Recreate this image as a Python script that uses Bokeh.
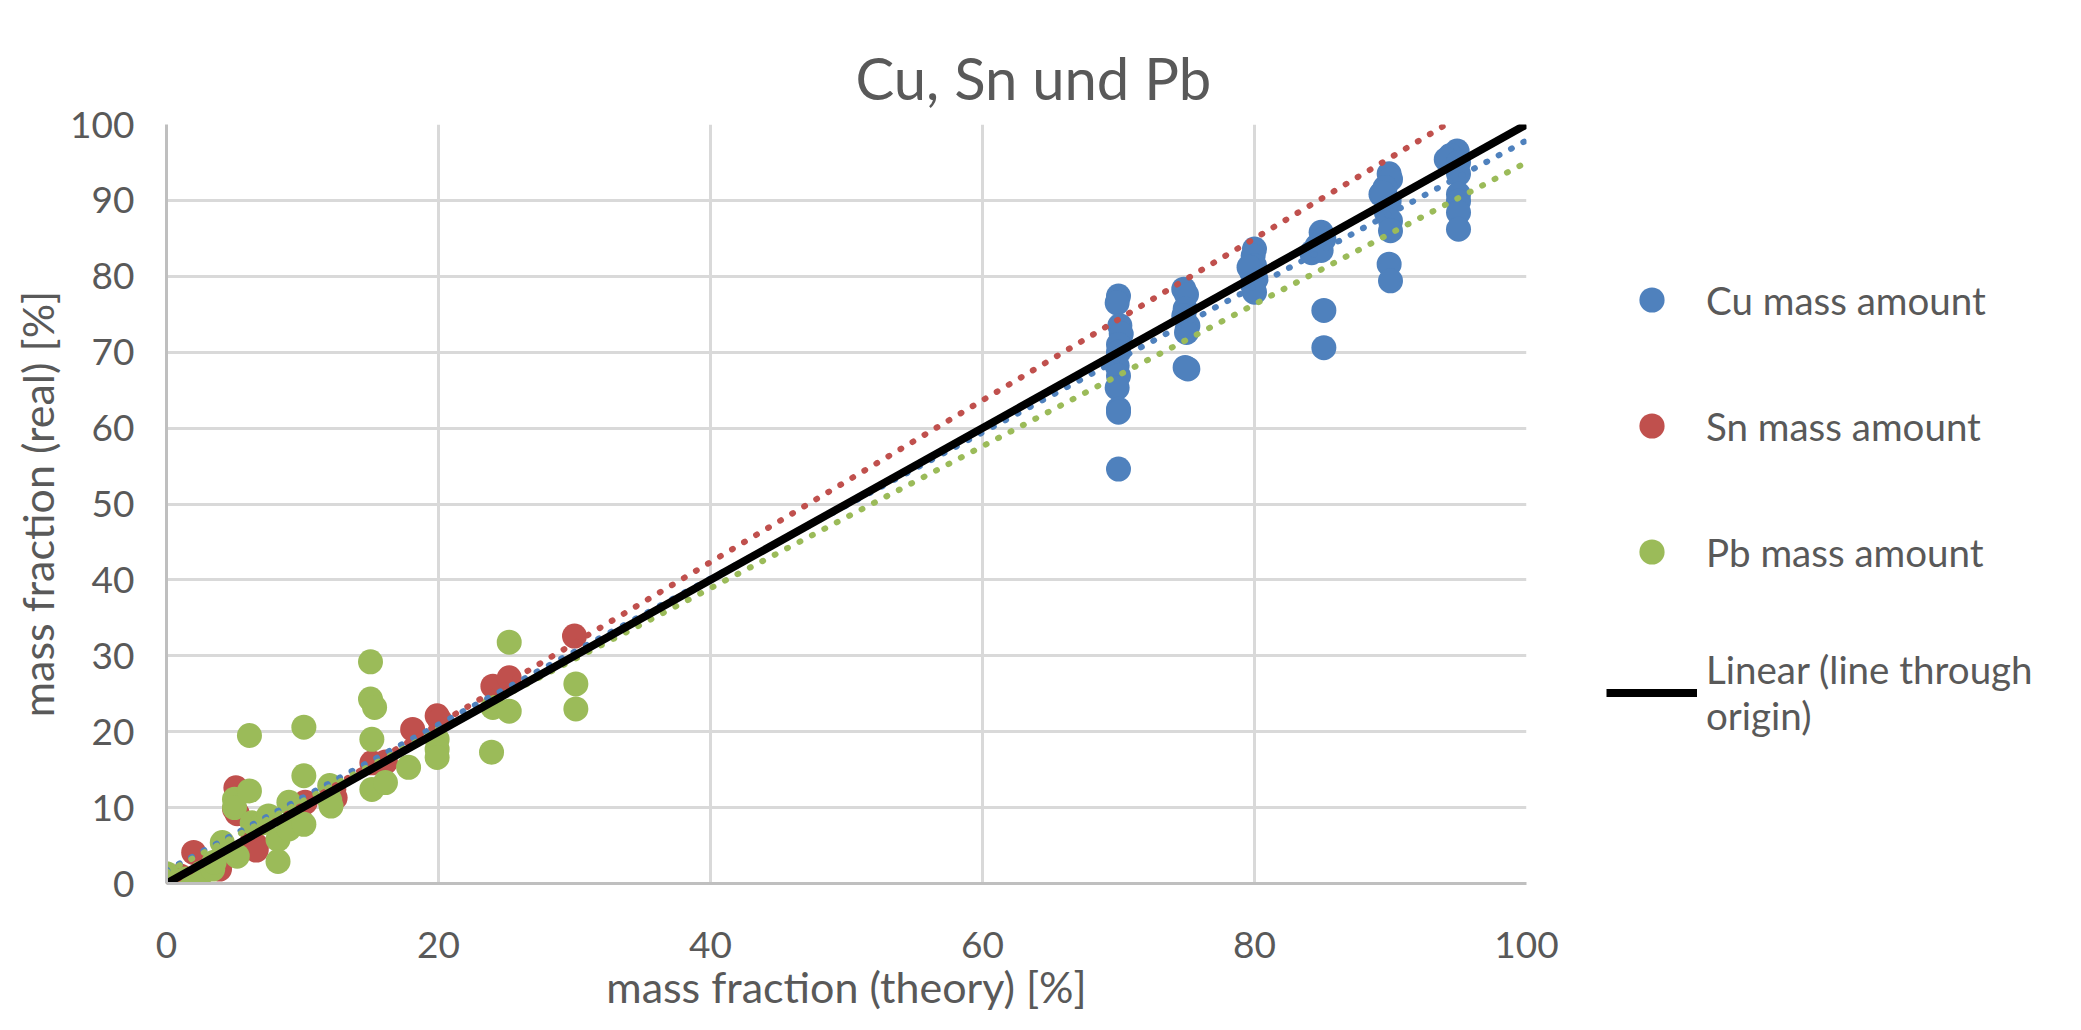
from bokeh.plotting import figure
from bokeh.models import Range1d, FixedTicker, Legend, LegendItem
from bokeh.embed import file_html
from bokeh.resources import INLINE

# ---------------- data ----------------
cu_x = [70.0, 69.9, 70.1, 70.2, 70.0, 70.0, 69.9, 70.0, 69.9, 70.0, 70.0, 70.0,
        74.8, 75.0, 74.9, 74.8, 75.1, 75.0, 74.9, 75.1,
        80.0, 79.9, 80.0, 79.8, 80.1, 79.9, 80.0, 79.6,
        84.9, 85.1, 84.6, 84.2, 84.9, 85.1, 85.1,
        89.9, 90.0, 89.6, 89.3, 89.9, 89.7, 90.0, 90.0, 89.9, 90.0, 89.4,
        94.9, 94.4, 94.1, 95.0, 95.0, 95.0, 95.0, 95.0, 95.0]
cu_y = [77.4, 76.5, 73.5, 72.4, 71.0, 70.0, 68.2, 66.9, 65.3, 62.5, 62.1, 54.6,
        78.3, 77.6, 75.7, 74.8, 73.5, 72.6, 68.0, 67.8,
        83.6, 82.7, 81.4, 80.5, 79.6, 78.7, 77.9, 81.2,
        85.8, 84.9, 84.0, 83.1, 83.4, 75.5, 70.6,
        93.5, 92.8, 91.7, 90.8, 89.9, 88.4, 87.3, 86.0, 81.6, 79.4, 91.0,
        96.5, 95.9, 95.4, 95.0, 93.5, 90.8, 89.9, 88.4, 86.2]

sn_x = [0.3, 1.0, 2.0, 3.9, 4.0, 5.1, 5.0, 5.2, 6.6, 6.3, 6.6, 9.8, 10.2, 12.3,
        12.4, 15.1, 16.1, 18.1, 19.9, 20.1, 24.0, 25.2, 30.0]
sn_y = [0.5, 1.0, 4.1, 1.9, 2.8, 12.6, 9.8, 9.2, 5.0, 5.5, 4.4, 8.5, 10.7, 12.4,
        11.3, 15.9, 16.0, 20.3, 22.1, 21.5, 26.0, 27.1, 32.6]

pb_x = [0.0, 0.0, 0.3, 1.4, 2.6, 3.4, 3.5, 4.1, 5.2, 5.0, 5.0, 6.1, 6.1, 6.3,
        7.1, 7.5, 8.2, 8.2, 9.0, 9.0, 10.1, 10.1, 10.1, 12.0, 12.1, 12.0,
        15.0, 15.0, 15.3, 15.1, 15.1, 16.1, 17.8, 19.9, 19.9, 19.9,
        23.9, 24.0, 25.2, 25.2, 30.1, 30.1]
pb_y = [0.0, 1.3, 0.6, 0.6, 1.4, 1.9, 2.8, 5.4, 3.6, 11.1, 10.0, 12.2, 19.5, 8.0,
        8.0, 8.9, 5.8, 2.9, 10.7, 7.2, 7.8, 14.2, 20.6, 11.0, 10.2, 12.9,
        29.2, 24.3, 23.2, 19.0, 12.4, 13.3, 15.3, 19.0, 17.7, 16.6,
        17.3, 23.2, 31.8, 22.7, 26.3, 23.0]

# linear trendlines (slope, intercept)
trend_names = ["Cu", "Sn", "Pb"]
trend_slope = [0.962, 1.066, 0.935]
trend_intercept = [1.7, -0.3, 1.5]
trend_x = [0, 100]

# line through origin
origin_x = [0, 100]
origin_y = [0, 100]

x_ticks = [0, 20, 40, 60, 80, 100]
y_ticks = [0, 10, 20, 30, 40, 50, 60, 70, 80, 90, 100]

colors = {"Cu": "#4F81BD", "Sn": "#C0504D", "Pb": "#9BBB59"}
TXT = "#595959"
FONT = "Lato"

# ---------------- figure ----------------
p = figure(frame_width=1360, frame_height=759,
           min_border_left=166, min_border_right=531,
           min_border_top=124, min_border_bottom=131,
           x_range=Range1d(0, 100), y_range=Range1d(0, 100),
           output_backend="svg", toolbar_location=None,
           background_fill_color="white", border_fill_color="white")
p.outline_line_color = None

p.title.text = "Cu, Sn und Pb"
p.title.align = "left"
p.title.offset = 689
p.title.text_font = FONT
p.title.text_font_size = "58px"
p.title.text_font_style = "normal"
p.title.text_color = TXT
p.title.standoff = 25

p.xaxis.ticker = FixedTicker(ticks=x_ticks)
p.yaxis.ticker = FixedTicker(ticks=y_ticks)
p.xgrid.ticker = FixedTicker(ticks=x_ticks)
p.ygrid.ticker = FixedTicker(ticks=y_ticks)
for g in (p.xgrid, p.ygrid):
    g.grid_line_color = "#D9D9D9"
    g.grid_line_width = 3

for ax in (p.xaxis, p.yaxis):
    ax.axis_line_color = "#BFBFBF"
    ax.axis_line_width = 3
    ax.major_tick_line_color = None
    ax.minor_tick_line_color = None
    ax.major_tick_out = 0
    ax.major_tick_in = 0
    ax.major_label_text_font = FONT
    ax.major_label_text_font_size = "37px"
    ax.major_label_text_color = TXT
    ax.axis_label_text_font = FONT
    ax.axis_label_text_font_size = "43px"
    ax.axis_label_text_font_style = "normal"
    ax.axis_label_text_color = TXT

p.xaxis.axis_label = "mass fraction (theory) [%]"
p.yaxis.axis_label = "mass fraction (real) [%]"
p.xaxis.major_label_standoff = 48
p.yaxis.major_label_standoff = 32
p.xaxis.axis_label_standoff = 0
p.yaxis.axis_label_standoff = 4

# markers
r_cu = p.scatter(cu_x, cu_y, size=25, color=colors["Cu"], line_color=None)
r_sn = p.scatter(sn_x, sn_y, size=25, color=colors["Sn"], line_color=None)
r_pb = p.scatter(pb_x, pb_y, size=25, color=colors["Pb"], line_color=None)

# dotted trendlines
for name, m, b in zip(trend_names, trend_slope, trend_intercept):
    ys = [m * x + b for x in trend_x]
    p.line(trend_x, ys, line_color=colors[name], line_width=6,
           line_dash="1 13", line_cap="round")

# black line through origin
r_lin = p.line(origin_x, origin_y, line_color="black", line_width=8)

legend = Legend(items=[
    LegendItem(label="Cu mass amount", renderers=[r_cu]),
    LegendItem(label="Sn mass amount", renderers=[r_sn]),
    LegendItem(label="Pb mass amount", renderers=[r_pb]),
    LegendItem(label="Linear (line through\norigin)", renderers=[r_lin]),
], location=(80, 145))
legend.glyph_width = 91
legend.glyph_height = 63
legend.label_standoff = 9
legend.spacing = 63
legend.padding = 0
legend.margin = 0
legend.border_line_color = None
legend.background_fill_alpha = 0
legend.label_text_font = FONT
legend.label_text_font_size = "38.5px"
legend.label_text_line_height = 1.35
legend.label_text_color = TXT
p.add_layout(legend, "right")

open("out.html", "w").write(file_html(p, INLINE))
